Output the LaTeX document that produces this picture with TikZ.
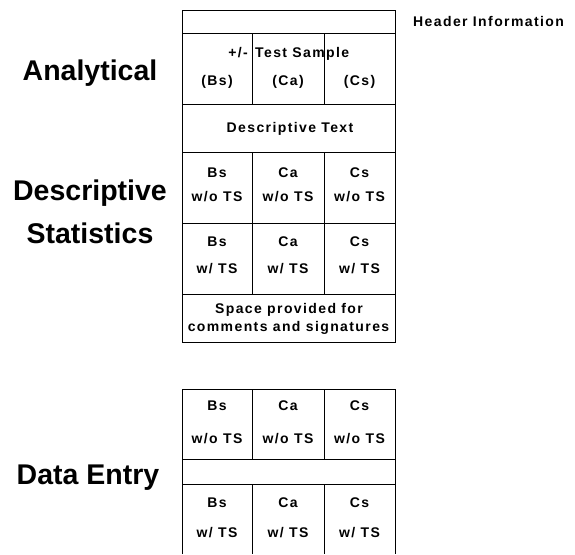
\documentclass[tikz,border=0pt]{standalone}
\usepackage{fontspec}
\setmainfont{Liberation Sans}
\newfontfamily\cellfont[LetterSpace=10]{Liberation Sans Bold}
\usepackage{tikz}

\begin{document}
\begin{tikzpicture}[x=1pt, y=-1pt,
  side/.style={font=\fontsize{28.5}{30}\selectfont\bfseries, anchor=base},
  cell/.style={font=\cellfont\fontsize{14}{15}\selectfont, anchor=base, inner sep=0pt},
  rule/.style={line width=0.9pt}]
\useasboundingbox (0,0) rectangle (575,554);

% Side labels
\node[side] (analytical) at (90,80) {Analytical};
\node[side] (descr) at (90,200) {Descriptive};
\node[side] (stats) at (90,243) {Statistics};
\node[side] (entry) at (88,484) {Data Entry};

% Upper sheet
\draw[rule] (182,10) rectangle (395,342);
\draw[rule] (182,33) -- (395,33);
\draw[rule] (182,104) -- (395,104);
\draw[rule] (182,152) -- (395,152);
\draw[rule] (182,223) -- (395,223);
\draw[rule] (182,294) -- (395,294);
\draw[rule] (252,33) -- (252,104);
\draw[rule] (324,33) -- (324,104);
\draw[rule] (252,152) -- (252,294);
\draw[rule] (324,152) -- (324,294);

\node[cell, anchor=base west] (header) at (413,27) {Header Information};

\node[cell, anchor=base east] (pm) at (248,57) {+/-};
\node[cell, anchor=base west] (sample) at (255,57) {Test Sample};
\node[cell] (bsA) at (217,85) {(Bs)};
\node[cell] (caA) at (288,85) {(Ca)};
\node[cell] (csA) at (359.5,85) {(Cs)};

\node[cell] (text) at (290,132) {Descriptive Text};

\node[cell] (bs1) at (217,177) {Bs};
\node[cell] (ca1) at (288,177) {Ca};
\node[cell] (cs1) at (359.5,177) {Cs};
\node[cell] (bs1b) at (217,201) {w/o TS};
\node[cell] (ca1b) at (288,201) {w/o TS};
\node[cell] (cs1b) at (359.5,201) {w/o TS};

\node[cell] (bs2) at (217,246) {Bs};
\node[cell] (ca2) at (288,246) {Ca};
\node[cell] (cs2) at (359.5,246) {Cs};
\node[cell] (bs2b) at (217,273) {w/ TS};
\node[cell] (ca2b) at (288,273) {w/ TS};
\node[cell] (cs2b) at (359.5,273) {w/ TS};

\node[cell] (space) at (289,313) {Space provided for};
\node[cell] (comments) at (288.5,331) {comments and signatures};

% Lower sheet
\draw[rule] (182,554) -- (182,389) -- (395,389) -- (395,554);
\draw[rule] (182,459) -- (395,459);
\draw[rule] (182,484) -- (395,484);
\draw[rule] (252,389) -- (252,459);
\draw[rule] (324,389) -- (324,459);
\draw[rule] (252,484) -- (252,554);
\draw[rule] (324,484) -- (324,554);

\node[cell] (bs3) at (217,410) {Bs};
\node[cell] (ca3) at (288,410) {Ca};
\node[cell] (cs3) at (359.5,410) {Cs};
\node[cell] (bs3b) at (217,443) {w/o TS};
\node[cell] (ca3b) at (288,443) {w/o TS};
\node[cell] (cs3b) at (359.5,443) {w/o TS};

\node[cell] (bs4) at (217,507) {Bs};
\node[cell] (ca4) at (288,507) {Ca};
\node[cell] (cs4) at (359.5,507) {Cs};
\node[cell] (bs4b) at (217,537) {w/ TS};
\node[cell] (ca4b) at (288,537) {w/ TS};
\node[cell] (cs4b) at (359.5,537) {w/ TS};
\end{tikzpicture}
\end{document}
